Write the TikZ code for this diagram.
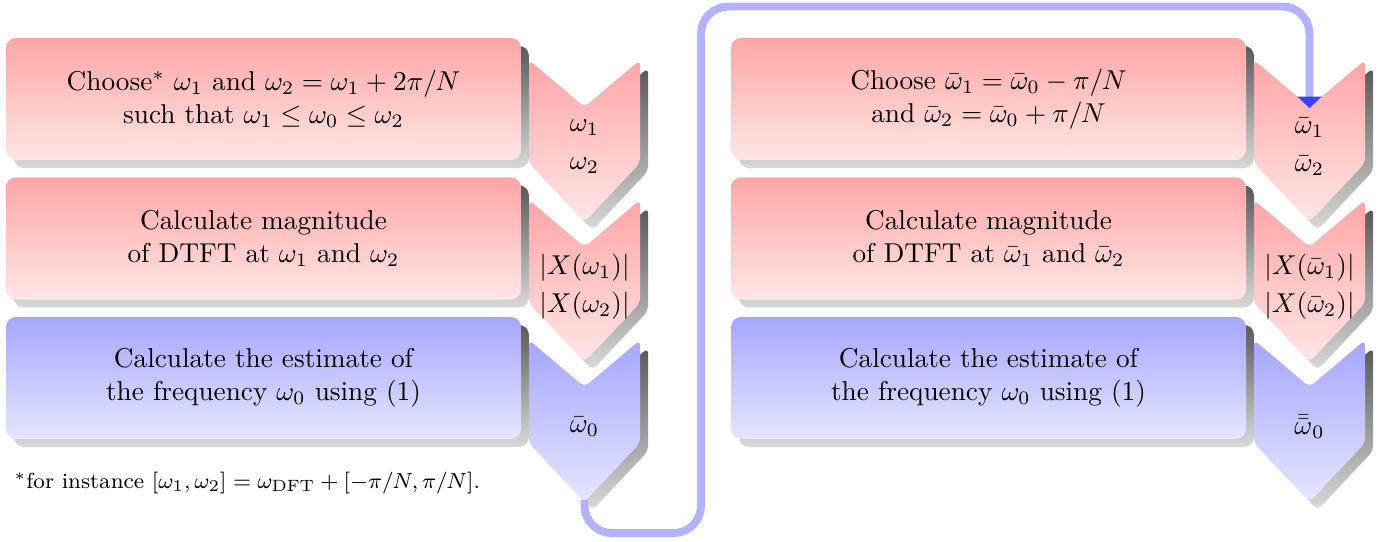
\documentclass[tikz,border=0pt]{standalone}
\usetikzlibrary{arrows.meta}
\tikzset{
  px/.style={x=0.367pt,y=-0.367pt},
  boxshape/.style={rectangle, rounded corners=3.7pt, minimum width=189pt, minimum height=44.8pt, inner sep=0pt, align=center},
  redbox/.style={boxshape, top color=red!35, bottom color=red!10},
  bluebox/.style={boxshape, top color=blue!35, bottom color=blue!10},
  shadowbox/.style={boxshape, top color=black!65, bottom color=black!15},
  chevtext/.style={align=center, inner sep=1pt},
  conn/.style={draw=blue!30, line width=2.9pt, rounded corners=10pt},
}
\newcommand\mychev[4]{%
  \shade[top color=black!65,bottom color=black!15,rounded corners=2pt]
    (#1+8,#2+8) -- (#1+63.5,#2+55) -- (#1+119,#2+8) -- (#1+119,#2+111) -- (#1+63.5,#2+170) -- (#1+8,#2+111) -- cycle;
  \shade[top color=#3,bottom color=#4,rounded corners=2pt]
    (#1,#2) -- (#1+55.5,#2+47) -- (#1+111,#2) -- (#1+111,#2+103) -- (#1+55.5,#2+162) -- (#1,#2+103) -- cycle;
}
\begin{document}
\begin{tikzpicture}[px]
\useasboundingbox (0,0) rectangle (1390,541);
% ---------- left column ----------
\node[shadowbox] (l1s) at (271.5,107) {};
\node[redbox] (l1) at (263.5,99) {Choose$^*$ $\omega_1$ and $\omega_2=\omega_1+2\pi/N$\\ such that $\omega_1\le\omega_0\le\omega_2$};
\node[shadowbox] (l2s) at (271.5,246.5) {};
\node[redbox] (l2) at (263.5,238.5) {Calculate magnitude\\ of DTFT at $\omega_1$ and $\omega_2$};
\node[shadowbox] (l3s) at (271.5,386) {};
\node[bluebox] (l3) at (263.5,378) {Calculate the estimate of\\ the frequency $\omega_0$ using (1)};
\mychev{529}{60}{red!35}{red!10}
\node[chevtext] (lc1) at (584.5,147) {$\omega_1$\\[2pt]$\omega_2$};
\mychev{529}{200}{red!35}{red!10}
\node[chevtext] (lc2) at (584.5,287) {$|X(\omega_1)|$\\[2pt]$|X(\omega_2)|$};
\mychev{529}{340}{blue!35}{blue!10}
\node[chevtext] (lc3) at (584.5,427) {$\bar\omega_0$};
\node[anchor=base west, font=\footnotesize, inner sep=0pt] (fn) at (14,488) {$^*$for instance $[\omega_1,\omega_2]=\omega_{\mathrm{DFT}}+[-\pi/N,\pi/N]$.};
% ---------- right column ----------
\node[shadowbox] (r1s) at (996.5,107) {};
\node[redbox] (r1) at (988.5,99) {Choose $\bar\omega_1=\bar\omega_0-\pi/N$\\ and $\bar\omega_2=\bar\omega_0+\pi/N$};
\node[shadowbox] (r2s) at (996.5,246.5) {};
\node[redbox] (r2) at (988.5,238.5) {Calculate magnitude\\ of DTFT at $\bar\omega_1$ and $\bar\omega_2$};
\node[shadowbox] (r3s) at (996.5,386) {};
\node[bluebox] (r3) at (988.5,378) {Calculate the estimate of\\ the frequency $\omega_0$ using (1)};
\mychev{1254}{60}{red!35}{red!10}
\node[chevtext] (rc1) at (1309.5,147) {$\bar\omega_1$\\[2pt]$\bar\omega_2$};
\mychev{1254}{200}{red!35}{red!10}
\node[chevtext] (rc2) at (1309.5,287) {$|X(\bar\omega_1)|$\\[2pt]$|X(\bar\omega_2)|$};
\mychev{1254}{340}{blue!35}{blue!10}
\node[chevtext] (rc3) at (1309.5,427) {$\bar{\bar\omega}_0$};
% ---------- connector ----------
\coordinate (ltip) at (584.5,500);
\coordinate (a1) at (584.5,533);
\coordinate (a2) at (701,533);
\coordinate (a3) at (701,6.5);
\coordinate (a4) at (1309.5,6.5);
\coordinate (rnotch) at (1309.5,108);
\draw[conn, -{Triangle[width=8.8pt,length=4.2pt,color=blue!75,fill=blue!75]}] (ltip) -- (a1) -- (a2) -- (a3) -- (a4) -- (rnotch);
\end{tikzpicture}
\end{document}
